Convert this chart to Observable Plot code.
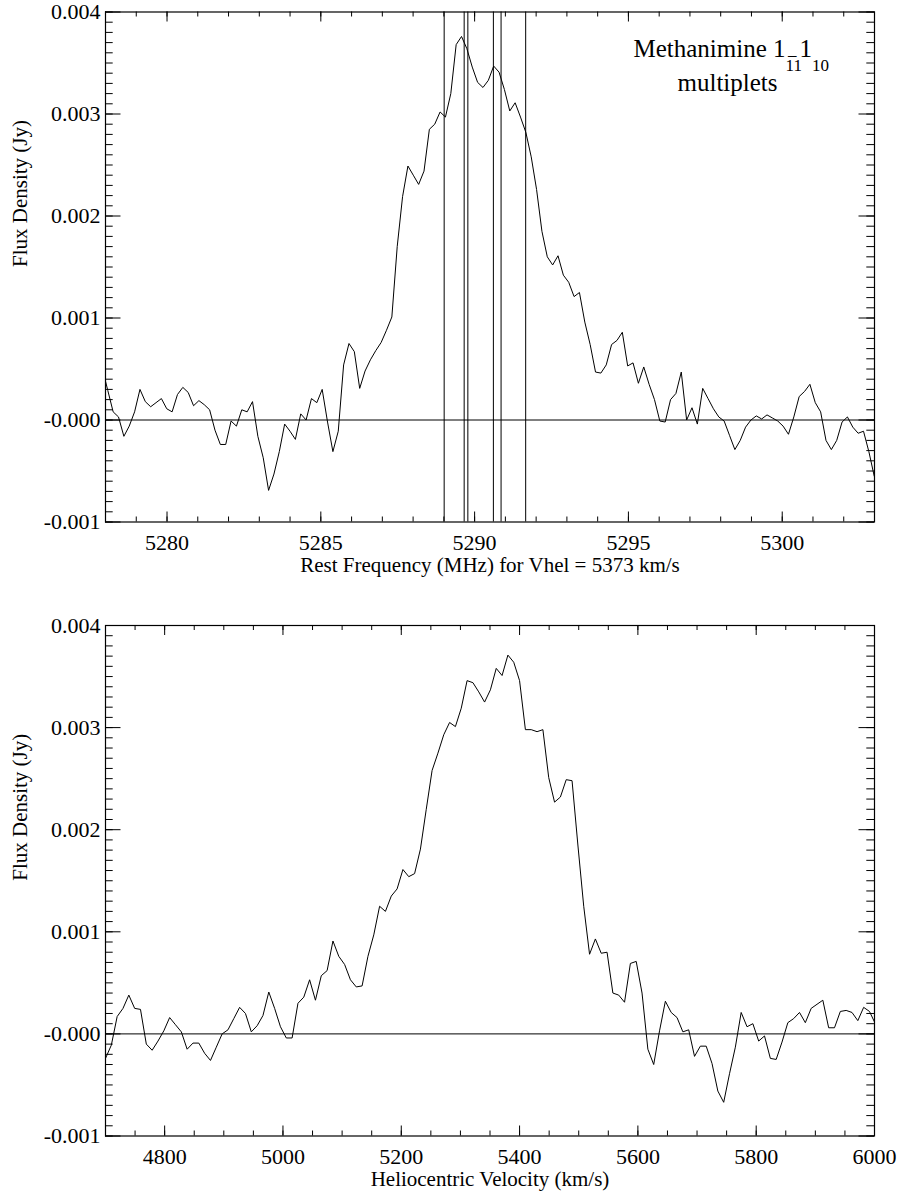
<!DOCTYPE html>
<html><head><meta charset="utf-8">
<script src="https://cdn.jsdelivr.net/npm/d3@7"></script>
<script src="https://cdn.jsdelivr.net/npm/@observablehq/plot@0.6"></script>
<style>
html,body{margin:0;padding:0;background:#fff;}
#chart svg{display:block;}
</style></head><body><div id="chart"></div>
<script>
// ---- Top panel: spectrum vs rest frequency (uniform channel grid) ----
const freqStart = 5277.9004;   // MHz, first channel
const freqStep = 0.17424;      // MHz per channel
const fluxFreq = [
 0.0005, 0.00029, 0.00008, 0.00003, -0.00016, -0.00006, 0.00008, 0.0003, 0.00018, 0.00013,
 0.00017, 0.00021, 0.00011, 0.00008, 0.00025, 0.00032, 0.00027, 0.00014, 0.00019, 0.00015,
 0.0001, -0.0001, -0.00024, -0.00024, -0.00001, -0.00006, 0.0001, 0.00008, 0.00018, -0.00016,
 -0.00037, -0.00069, -0.00053, -0.00031, -0.00004, -0.00011, -0.00019, 0.00006, 0.0, 0.00021,
 0.00017, 0.0003, -0.00002, -0.00031, -0.00011, 0.00054, 0.00075, 0.00067, 0.00031, 0.00048,
 0.00059, 0.00068, 0.00076, 0.00088, 0.00101, 0.0017, 0.00219, 0.00249, 0.0024, 0.00231,
 0.00244, 0.00285, 0.0029, 0.00302, 0.00297, 0.0032, 0.00368, 0.00376, 0.00364, 0.00346,
 0.00331, 0.00326, 0.00333, 0.00347, 0.00341, 0.00324, 0.00303, 0.00311, 0.00297, 0.00282,
 0.00258, 0.00226, 0.00185, 0.0016, 0.00152, 0.00161, 0.00142, 0.00135, 0.00121, 0.00125,
 0.00096, 0.00074, 0.00047, 0.00046, 0.00054, 0.00074, 0.00078, 0.00086, 0.00053, 0.00056,
 0.00036, 0.00052, 0.00035, 0.0002, -0.00001, -0.00002, 0.0002, 0.00026, 0.00047, 0.0,
 0.00012, -0.00004, 0.00031, 0.00021, 0.00011, 0.00003, -0.00001, -0.00015, -0.00029, -0.0002,
 -0.00007, 0.0, 0.00004, 0.00001, 0.00005, 0.00002, -0.00001, -0.00006, -0.00014, 0.00003,
 0.00023, 0.00028, 0.00035, 0.00017, 0.00008, -0.0002, -0.00029, -0.0002, -0.00002, 0.00003,
 -0.00007, -0.00013, -0.00011, -0.00031, -0.00055
];
const hyperfineLines = [5289.01, 5289.66, 5289.78, 5290.61, 5290.86, 5291.66];
const freqDomain = [5278, 5303];
const freqTicks = [5280, 5285, 5290, 5295, 5300];
const freqTitle = "Rest Frequency (MHz) for Vhel = 5373 km/s";

// ---- Bottom panel: spectrum vs heliocentric velocity ----
const velStart = 4700;   // km/s, first channel
const velStep = 9.859;   // km/s per channel
const fluxVel = [
 -0.00024, -0.00011, 0.00017, 0.00025, 0.00038, 0.00025, 0.00024, -0.0001, -0.00016, -0.00007,
 0.00003, 0.00016, 0.00009, 0.00002, -0.00015, -0.00009, -0.00009, -0.00019, -0.00026, -0.00013,
 0.0, 0.00004, 0.00015, 0.00026, 0.0002, 0.00002, 0.00008, 0.00018, 0.00041, 0.00025,
 0.00007, -0.00004, -0.00004, 0.0003, 0.00036, 0.00053, 0.00033, 0.00057, 0.00062, 0.00091,
 0.00076, 0.00068, 0.00053, 0.00046, 0.00047, 0.00076, 0.00097, 0.00125, 0.0012, 0.00135,
 0.00142, 0.00161, 0.00154, 0.00157, 0.00181, 0.0022, 0.00258, 0.00275, 0.00293, 0.00305,
 0.00301, 0.00319, 0.00346, 0.00344, 0.00335, 0.00325, 0.00337, 0.00358, 0.00351, 0.00371,
 0.00364, 0.00346, 0.00298, 0.00298, 0.00296, 0.00298, 0.00251, 0.00227, 0.00232, 0.00249,
 0.00248, 0.00185, 0.00125, 0.00078, 0.00093, 0.00079, 0.0008, 0.0004, 0.00038, 0.00031,
 0.00069, 0.00071, 0.0004, -0.00015, -0.0003, 0.00003, 0.00032, 0.00021, 0.00016, 0.00002,
 0.00004, -0.00022, -0.00012, -0.00012, -0.00029, -0.00056, -0.00067, -0.00039, -0.00013, 0.00021,
 0.00007, 0.0001, -0.00007, -0.00002, -0.00024, -0.00025, -0.00008, 0.00011, 0.00015, 0.00021,
 0.00011, 0.00025, 0.00029, 0.00033, 0.00006, 0.00006, 0.00022, 0.00023, 0.00021, 0.00013,
 0.00026, 0.00022, 0.0001
];
const velDomain = [4700, 6000];
const velTicks = [4800, 5000, 5200, 5400, 5600, 5800, 6000];
const velTitle = "Heliocentric Velocity (km/s)";

// ---- shared y axis ----
const yDomain = [-0.001, 0.004];
const yTickValues = [-0.001, 0, 0.001, 0.002, 0.003, 0.004];
const yTickLabels = ["-0.001", "-0.000", "0.001", "0.002", "0.003", "0.004"];
const yTitle = "Flux Density (Jy)";

const annotationParts = ["Methanimine 1", "11", "\u2013", "1", "10"];
const annotationLine2 = "multiplets";

const FONT = "'Liberation Serif', 'Times New Roman', Times, serif";
const WIDTH = 899, ML = 105, MR = 25;

function panel({xDomain, xMajor, xMinor, series, xTitle, height, marginTop, marginBottom, extra = []}) {
  const W = WIDTH - ML - MR;
  const H = height - marginTop - marginBottom;
  const yMinor = d3.range(-10, 41).map(k => k / 10000);
  return Plot.plot({
    width: WIDTH, height, marginLeft: ML, marginRight: MR, marginTop, marginBottom,
    style: {fontFamily: FONT, color: "black", background: "white", overflow: "visible"},
    x: {domain: xDomain},
    y: {domain: yDomain},
    marks: [
      ...extra,
      Plot.ruleY([0], {stroke: "black", strokeWidth: 1}),
      Plot.line(series, {x: "x", y: "y", stroke: "black", strokeWidth: 1, clip: "frame"}),
      // inward ticks on all four sides
      Plot.tickX(xMajor, {x: d => d, insetTop: H - 10, stroke: "black"}),
      Plot.tickX(xMinor, {x: d => d, insetTop: H - 5, stroke: "black"}),
      Plot.tickX(xMajor, {x: d => d, insetBottom: H - 10, stroke: "black"}),
      Plot.tickX(xMinor, {x: d => d, insetBottom: H - 5, stroke: "black"}),
      Plot.tickY(yTickValues, {y: d => d, insetRight: W - 15.5, stroke: "black"}),
      Plot.tickY(yMinor, {y: d => d, insetRight: W - 7.7, stroke: "black"}),
      Plot.tickY(yTickValues, {y: d => d, insetLeft: W - 15.5, stroke: "black"}),
      Plot.tickY(yMinor, {y: d => d, insetLeft: W - 7.7, stroke: "black"}),
      Plot.frame({stroke: "black", strokeWidth: 1.2}),
      Plot.axisX({ticks: xMajor, tickSize: 0, tickPadding: 12, fontSize: 22, label: null, tickFormat: d3.format("d")}),
      Plot.axisY({ticks: yTickValues, tickSize: 0, tickPadding: 5, fontSize: 22, label: null,
                  tickFormat: d => yTickLabels[yTickValues.indexOf(d)]}),
      Plot.text([yTitle], {text: d => d, frameAnchor: "left", rotate: -90, dx: -85, fontSize: 21, lineAnchor: "middle"}),
      Plot.text([xTitle], {text: d => d, frameAnchor: "bottom", dy: 43, fontSize: 21, lineAnchor: "middle"})
    ]
  });
}

const topSeries = fluxFreq.map((v, i) => ({x: freqStart + i * freqStep, y: v}));
const botSeries = fluxVel.map((v, i) => ({x: velStart + i * velStep, y: v}));

const topPlot = panel({
  xDomain: freqDomain, xMajor: freqTicks, xMinor: d3.range(5278, 5303.5, 1),
  series: topSeries, xTitle: freqTitle, height: 600, marginTop: 11.5, marginBottom: 78.5,
  extra: [
    Plot.ruleX(hyperfineLines, {x: d => d, stroke: "black", strokeWidth: 1}),
    Plot.text([annotationParts[0]], {text: d => d, frameAnchor: "top-left", dx: 528, dy: 45,
      textAnchor: "start", lineAnchor: "bottom", fontSize: 25}),
    Plot.text([annotationLine2], {text: d => d, frameAnchor: "top-left", dx: 572, dy: 79,
      textAnchor: "start", lineAnchor: "bottom", fontSize: 25})
  ]
});

const bottomPlot = panel({
  xDomain: velDomain, xMajor: velTicks, xMinor: d3.range(4700, 6000.5, 50),
  series: botSeries, xTitle: velTitle, height: 595, marginTop: 25, marginBottom: 59.5
});

// rich text: subscript pieces of the transition label, with the dash raised above the first subscript
d3.select(topPlot).selectAll("text").filter(function() { return this.textContent === annotationParts[0]; })
  .each(function() {
    const t = d3.select(this);
    t.append("tspan").attr("font-size", 17).attr("dy", 14).text(annotationParts[1]);
    t.append("tspan").attr("font-size", 17).attr("dx", -14).attr("dy", -11).text(annotationParts[2]);
    t.append("tspan").attr("font-size", 25).attr("dx", 3).attr("dy", -3).text(annotationParts[3]);
    t.append("tspan").attr("font-size", 17).attr("dy", 14).text(annotationParts[4]);
  });

document.getElementById("chart").append(topPlot, bottomPlot);
</script></body></html>
